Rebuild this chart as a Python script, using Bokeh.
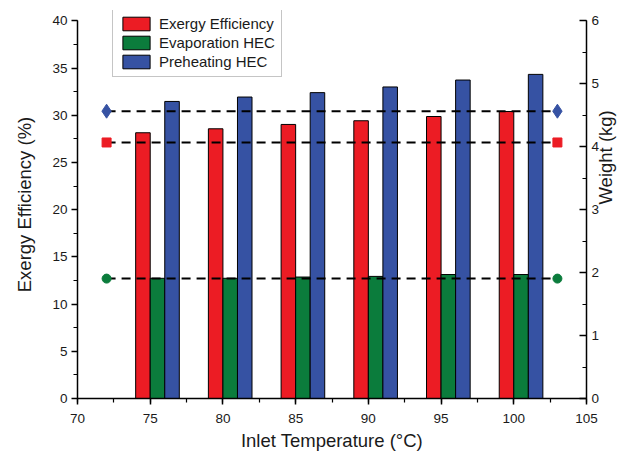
import math
from bokeh.plotting import figure
from bokeh.models import (Range1d, LinearAxis, ColumnDataSource, Legend, LegendItem,
                          SingleIntervalTicker)
from bokeh.transform import dodge
from bokeh.embed import file_html
from bokeh.resources import INLINE

# ---- data ----
temps = [75, 80, 85, 90, 95, 100]
exergy_eff = [28.15, 28.57, 29.03, 29.42, 29.87, 30.40]   # % (left axis)
evap_hec = [1.91, 1.91, 1.93, 1.94, 1.97, 1.97]           # kg (right axis)
preheat_hec = [4.72, 4.79, 4.86, 4.95, 5.06, 5.15]        # kg (right axis)

ref_x = [72, 103]
ref_exergy = [27.12, 27.12]
ref_evap = [1.905, 1.905]
ref_preheat = [4.565, 4.565]

RED = "#ec1c24"
GREEN = "#0b7c3c"
BLUE = "#3652a3"
FONT = "Liberation Sans"
TXT = "#1a1a1a"

# the frame reaches a little above the top tick so the legend is not clipped
Y_TOP = 41.1
W_TOP = 6 * Y_TOP / 40

src = ColumnDataSource(dict(t=temps, ex=exergy_eff, ev=evap_hec, pr=preheat_hec))

p = figure(width=629, height=460, x_range=Range1d(70, 105), y_range=Range1d(0, Y_TOP),
           output_backend="svg", toolbar_location=None,
           min_border_left=77, min_border_right=42, min_border_top=10, min_border_bottom=62)
p.extra_y_ranges = {"w": Range1d(0, W_TOP)}
p.grid.visible = False
p.outline_line_color = None
p.background_fill_color = "white"

r_ex = p.vbar(x=dodge("t", -0.5), top="ex", bottom=0, width=1.0, source=src,
              fill_color=RED, line_color="black", line_width=1)
r_ev = p.vbar(x=dodge("t", 0.5), top="ev", bottom=0, width=1.0, source=src,
              fill_color=GREEN, line_color="black", line_width=1, y_range_name="w")
r_pr = p.vbar(x=dodge("t", 1.5), top="pr", bottom=0, width=1.0, source=src,
              fill_color=BLUE, line_color="black", line_width=1, y_range_name="w")

# reference dashed lines
p.line(ref_x, ref_preheat, y_range_name="w", line_color="black", line_width=2, line_dash="9 6")
p.line(ref_x, ref_exergy, line_color="black", line_width=2, line_dash="9 6")
p.line(ref_x, ref_evap, y_range_name="w", line_color="black", line_width=2, line_dash="9 6")
p.scatter(ref_x, ref_preheat, y_range_name="w", marker="diamond", size=14,
          fill_color=BLUE, line_color=BLUE)
p.scatter(ref_x, ref_exergy, marker="square", size=9, fill_color=RED, line_color=RED)
p.scatter(ref_x, ref_evap, y_range_name="w", marker="circle", size=9,
          fill_color=GREEN, line_color=GREEN)

# axes
def style_axis(ax):
    ax.axis_line_color = "black"
    ax.axis_line_width = 1.5
    ax.major_tick_line_color = "black"
    ax.minor_tick_line_color = "black"
    ax.major_tick_line_width = 1.5
    ax.minor_tick_line_width = 1.2
    ax.major_label_text_font = FONT
    ax.major_label_text_font_size = "13.5px"
    ax.major_label_text_color = TXT
    ax.axis_label_text_font = FONT
    ax.axis_label_text_font_size = "18.5px"
    ax.axis_label_text_font_style = "normal"
    ax.axis_label_text_color = TXT

xa = p.xaxis[0]
xa.ticker = SingleIntervalTicker(interval=5, num_minor_ticks=2)
xa.axis_label = "Inlet Temperature (°C)"
style_axis(xa)
xa.major_tick_out = 6
xa.major_tick_in = 0
xa.minor_tick_out = 4
xa.minor_tick_in = 0
xa.major_label_standoff = 9
xa.axis_label_standoff = 4

ya = p.yaxis[0]
ya.ticker = SingleIntervalTicker(interval=5, num_minor_ticks=2)
ya.bounds = (0, 40)
ya.axis_label = "Exergy Efficiency (%)"
style_axis(ya)
ya.major_tick_out = 6
ya.major_tick_in = 0
ya.minor_tick_out = 4
ya.minor_tick_in = 0
ya.major_label_standoff = 4
ya.axis_label_standoff = 14

ra = LinearAxis(y_range_name="w", axis_label="Weight (kg)", bounds=(0, 6),
                ticker=SingleIntervalTicker(interval=1, num_minor_ticks=2))
style_axis(ra)
ra.major_tick_out = 0
ra.major_tick_in = 7
ra.minor_tick_out = 0
ra.minor_tick_in = 4
ra.major_label_standoff = 5
ra.axis_label_standoff = 3
ra.axis_label_orientation = math.pi / 2
p.add_layout(ra, "right")

legend = Legend(items=[LegendItem(label="Exergy Efficiency", renderers=[r_ex]),
                       LegendItem(label="Evaporation HEC", renderers=[r_ev]),
                       LegendItem(label="Preheating HEC", renderers=[r_pr])],
                location=(35, 321), margin=0, padding=6, spacing=2,
                glyph_width=34, glyph_height=17, label_height=17, label_standoff=6,
                label_text_font=FONT, label_text_font_size="15px", label_text_color=TXT,
                border_line_color="#8c8c8c", border_line_width=1,
                background_fill_color="white", background_fill_alpha=1)
p.add_layout(legend)

open("out.html", "w").write(file_html(p, INLINE))
